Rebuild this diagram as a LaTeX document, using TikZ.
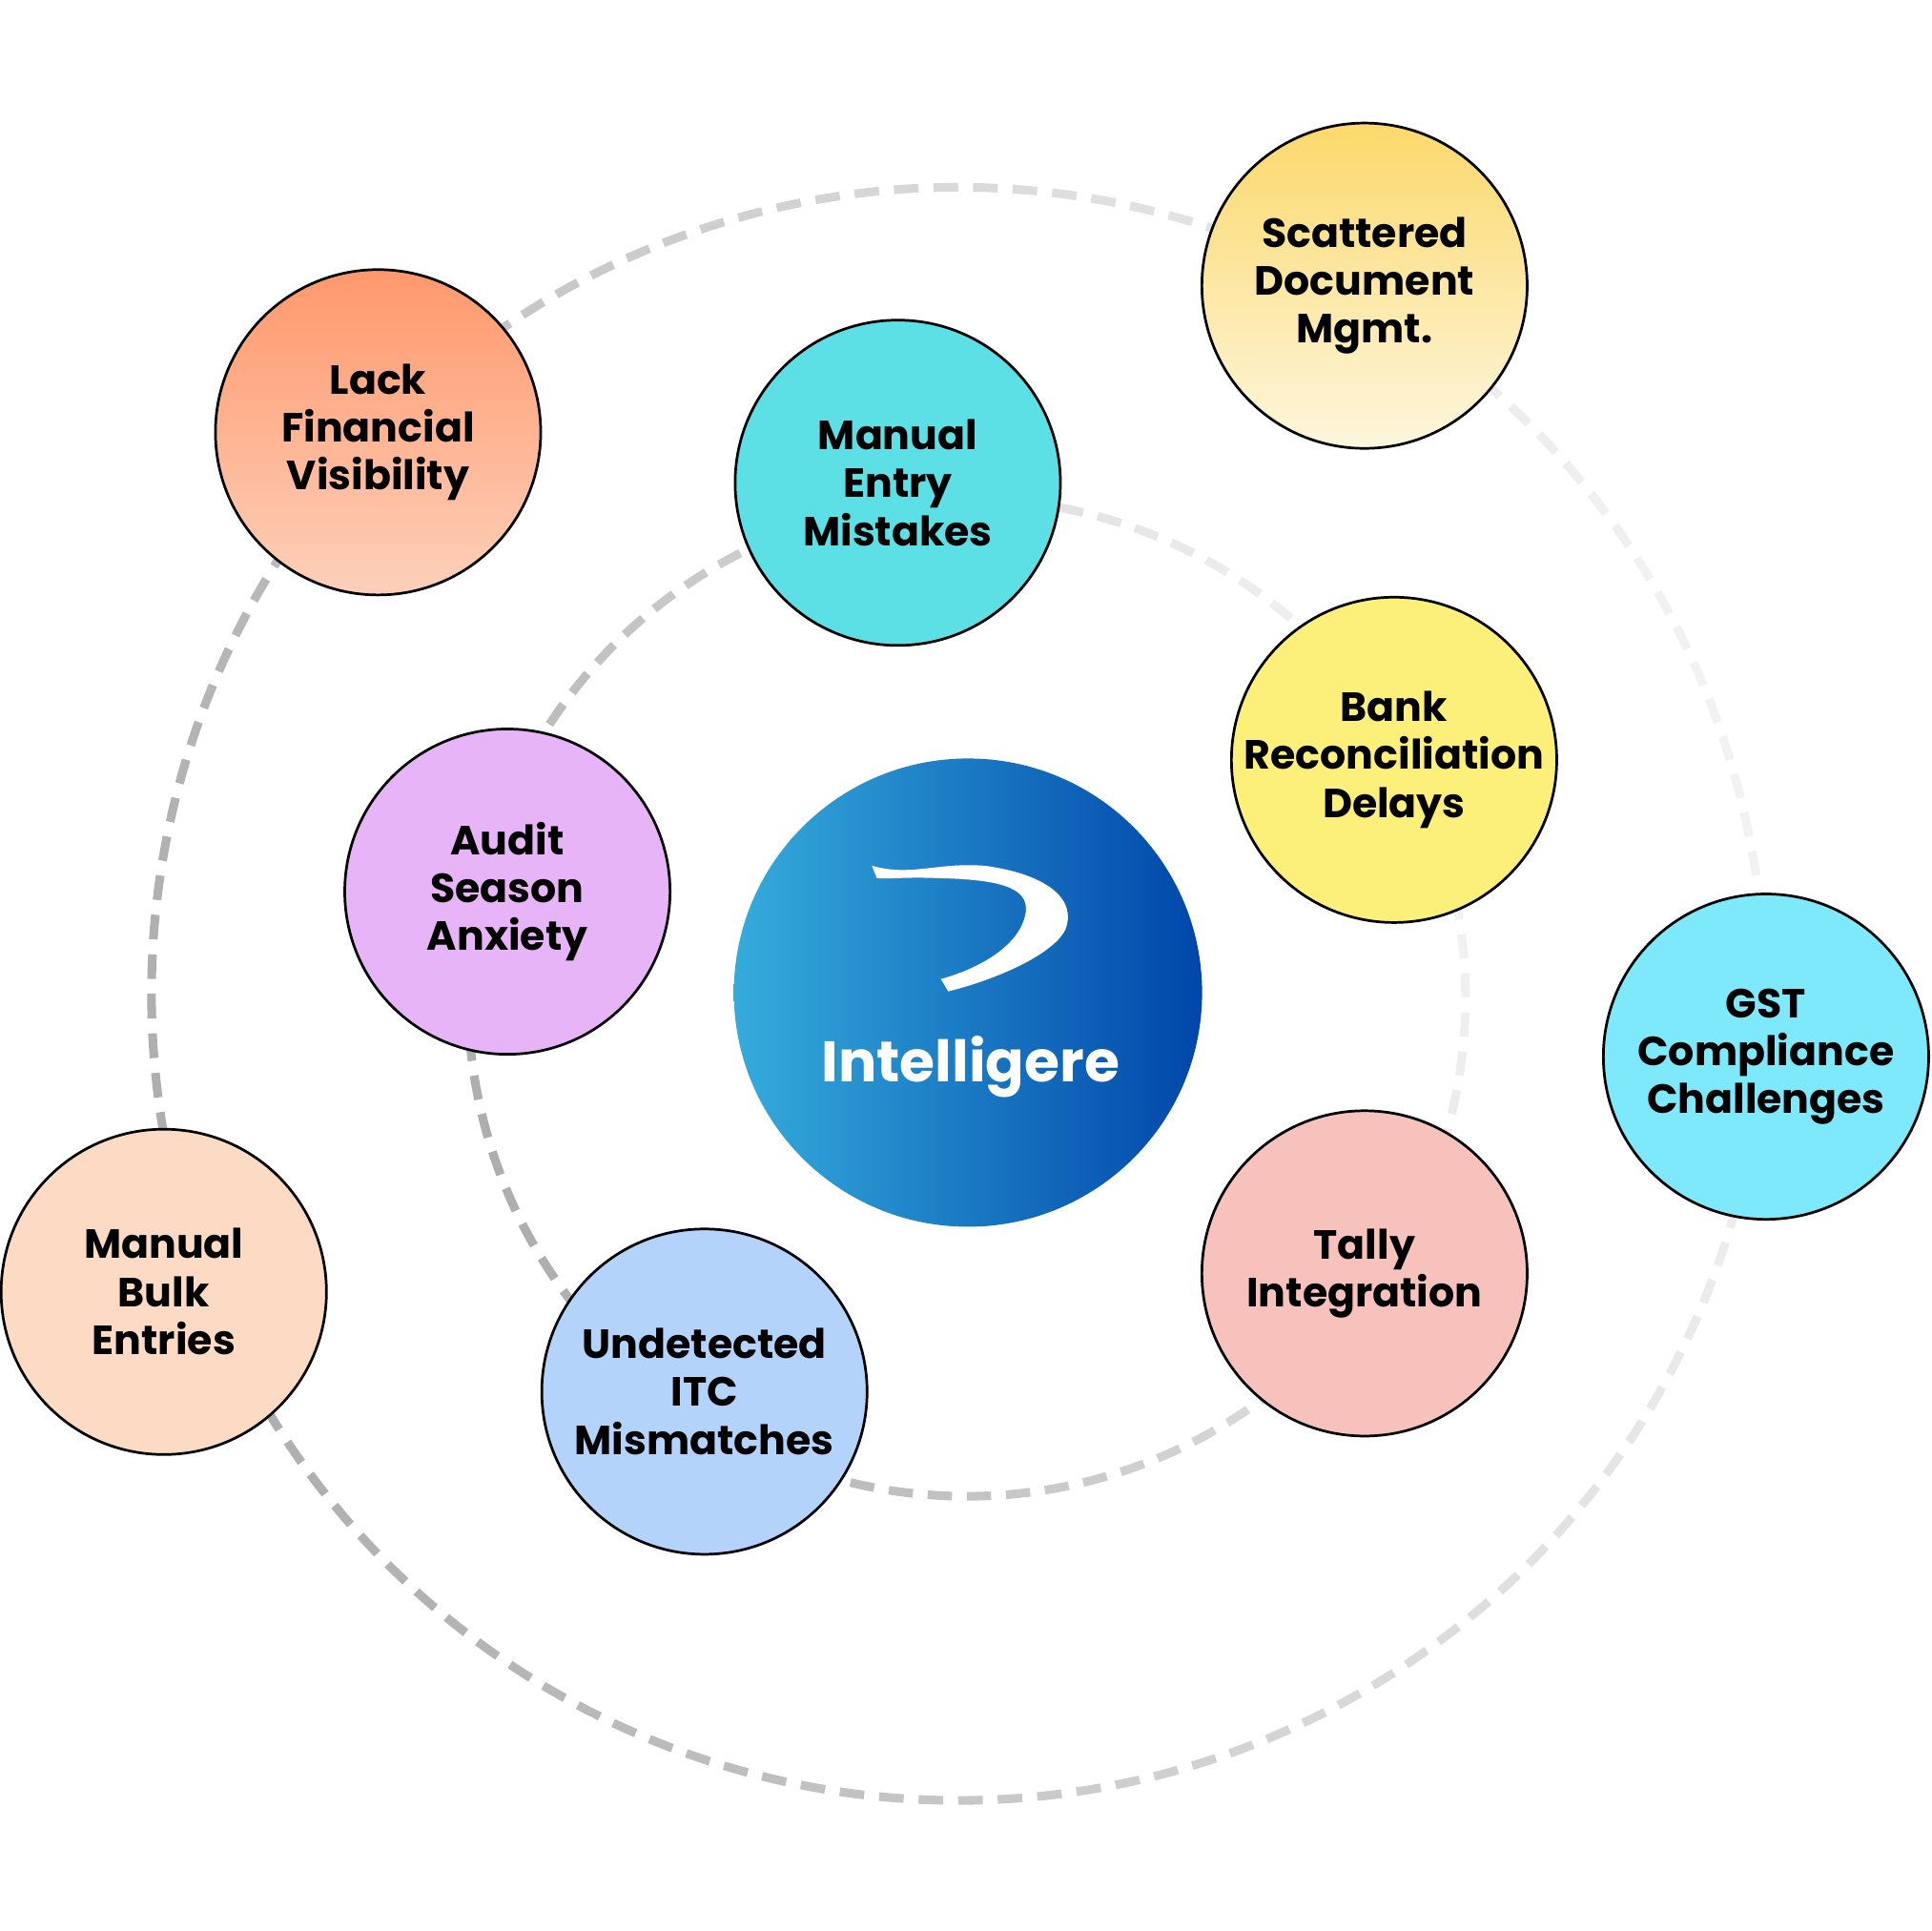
\documentclass[tikz,border=0pt]{standalone}
\usepackage{fontspec}
\setmainfont{Poppins}
\begin{document}
\begin{tikzpicture}[x=0.01cm,y=-0.01cm,
  bub/.style={circle,draw=black,line width=0.6pt,minimum size=2.64cm,inner sep=-30pt,align=center,font=\fontsize{9.4}{11.1}\selectfont\bfseries},
  dsh/.style={line width=2pt}]
\useasboundingbox (0,0) rectangle (1568,1568);
\definecolor{dk}{HTML}{AEAEAE}
\definecolor{lt}{HTML}{F2F2F2}
% outer dashed circle
\foreach \i in {0,...,127}{
  \pgfmathsetmacro\a{\i*2.8125}
  \pgfmathsetmacro\p{100*(1+cos(\a-15))/2}
  \draw[dsh,color=lt!\p!dk] (778,807) ++(\a:655 and -655) arc[start angle=\a,end angle=\a+1.75,x radius=655,y radius=-655];
}
% inner dashed circle
\foreach \i in {0,...,79}{
  \pgfmathsetmacro\a{\i*4.5}
  \pgfmathsetmacro\p{100*(1+cos(\a-20))/2}
  \draw[dsh,color=lt!\p!dk] (785,810) ++(\a:405 and -405) arc[start angle=\a,end angle=\a+2.8,x radius=405,y radius=-405];
}
% center
\node[circle,minimum size=3.8cm,inner sep=0pt,left color={rgb,255:red,53;green,172;blue,220},right color={rgb,255:red,0;green,70;blue,170}] (c) at (786,806) {};
\node[text=white,font=\fontsize{13.2}{16}\selectfont\bfseries] (ct) at (788,866) {Intelligere};
\fill[white] (708,703) .. controls (740,712) and (760,700) .. (800,703) .. controls (850,710) and (875,730) .. (865,755) .. controls (855,775) and (810,795) .. (770,805) -- (764,795) .. controls (800,785) and (830,765) .. (833,740) .. controls (835,720) and (810,714) .. (760,713) .. controls (735,712) and (720,714) .. (712,713) -- cycle;
% bubbles
\node[bub,top color={rgb,255:red,255;green,152;blue,108},bottom color={rgb,255:red,253;green,208;blue,186}] (n1) at (307,351) {Lack\\Financial\\Visibility};
\node[bub,fill={rgb,255:red,92;green,224;blue,230}] (n2) at (729,392) {Manual\\Entry\\Mistakes};
\node[bub,top color={rgb,255:red,252;green,217;blue,107},bottom color={rgb,255:red,253;green,246;blue,222}] (n3) at (1108,232) {Scattered\\Document\\Mgmt.};
\node[bub,fill={rgb,255:red,252;green,240;blue,122}] (n4) at (1132,617) {Bank\\Reconciliation\\Delays};
\node[bub,fill={rgb,255:red,125;green,233;blue,251}] (n5) at (1434,858) {GST\\Compliance\\Challenges};
\node[bub,fill={rgb,255:red,248;green,194;blue,188}] (n6) at (1108,1034) {Tally\\Integration};
\node[bub,fill={rgb,255:red,179;green,211;blue,251}] (n7) at (572,1130) {Undetected\\ITC\\Mismatches};
\node[bub,fill={rgb,255:red,253;green,218;blue,196}] (n8) at (133,1049) {Manual\\Bulk\\Entries};
\node[bub,fill={rgb,255:red,232;green,180;blue,248}] (n9) at (412,724) {Audit\\Season\\Anxiety};
\end{tikzpicture}
\end{document}
